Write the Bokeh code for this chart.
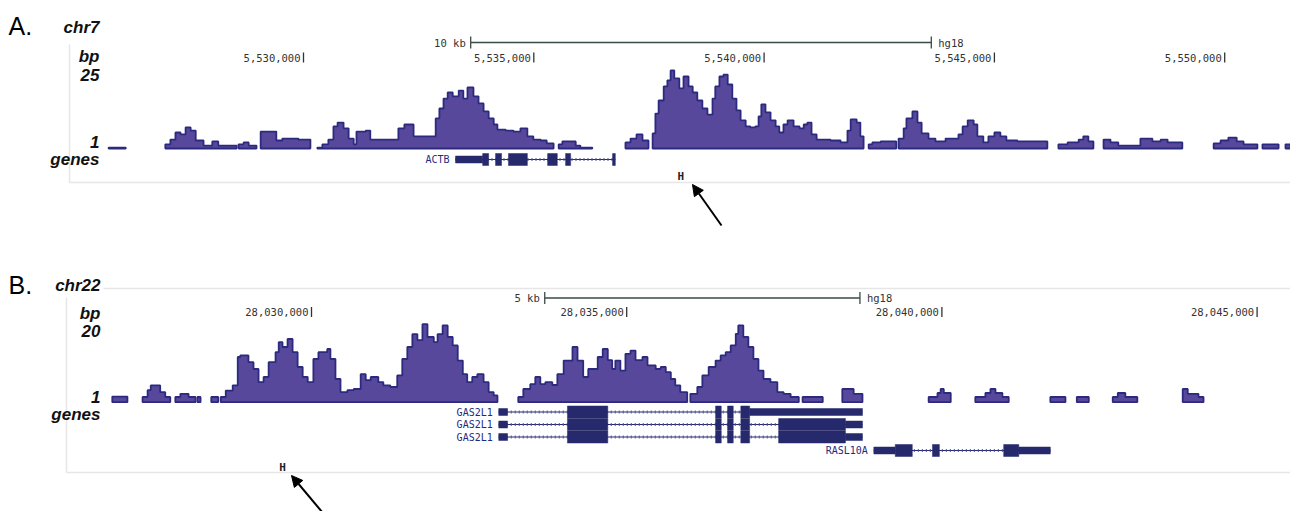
from bokeh.plotting import figure
from bokeh.layouts import column
from bokeh.models import Range1d, Arrow, NormalHead
from bokeh.embed import file_html
from bokeh.resources import INLINE
from bokeh.core.properties import value

# ======================= DATA =======================
# ---- Panel A : chr7 (hg18), positions in kb ----
a_chrom = "chr7"
a_ymax = 25
a_cov_kb = [
    5525.77, 5526.14, 5527.00, 5527.11, 5527.22, 5527.33, 5527.44, 5527.55, 5527.66, 5527.83,
    5528.02, 5528.15, 5528.55, 5528.59, 5528.70, 5528.81, 5528.98, 5529.07, 5529.41, 5529.54,
    5529.89, 5530.15, 5530.30, 5530.41, 5530.54, 5530.65, 5530.74, 5530.87, 5530.98, 5531.09,
    5531.15, 5531.35, 5531.45, 5532.06, 5532.19, 5532.39, 5532.87, 5532.95, 5533.04, 5533.13,
    5533.24, 5533.37, 5533.47, 5533.56, 5533.69, 5533.80, 5533.91, 5534.02, 5534.13, 5534.21,
    5534.39, 5534.56, 5534.71, 5534.86, 5534.99, 5535.15, 5535.28, 5535.43, 5535.54, 5535.62,
    5535.91, 5536.01, 5536.27, 5536.99, 5537.10, 5537.23, 5537.36, 5537.49, 5537.58, 5537.64,
    5537.71, 5537.82, 5537.90, 5537.97, 5538.05, 5538.16, 5538.25, 5538.36, 5538.45, 5538.55,
    5538.66, 5538.77, 5538.88, 5538.94, 5539.03, 5539.12, 5539.21, 5539.31, 5539.40, 5539.49,
    5539.60, 5539.70, 5539.81, 5539.88, 5539.94, 5540.03, 5540.14, 5540.25, 5540.33, 5540.42,
    5540.51, 5540.64, 5540.77, 5540.86, 5540.94, 5541.03, 5541.14, 5541.44, 5541.66, 5541.81,
    5541.88, 5542.01, 5542.09, 5542.16, 5542.27, 5542.35, 5542.53, 5542.87, 5542.92, 5543.03,
    5543.09, 5543.22, 5543.33, 5543.42, 5543.57, 5543.72, 5543.94, 5544.22, 5544.31, 5544.42,
    5544.55, 5544.63, 5544.76, 5544.87, 5545.00, 5545.13, 5545.26, 5545.50, 5546.15, 5546.39,
    5546.59, 5546.83, 5546.93, 5547.04, 5547.15, 5547.37, 5547.52, 5547.69, 5548.17, 5548.43,
    5548.61, 5548.76, 5549.08, 5549.76, 5549.91, 5550.08, 5550.26, 5550.41, 5550.71, 5550.82,
    5551.17, 5551.32, 5551.43,
]
a_cov = [
    0.3, 0, 1.3, 2.8, 5.0, 4.4, 6.6, 5.6, 2.5, 0.9,
    2.2, 0.9, 0, 1.3, 1.9, 0.9, 0, 5.3, 2.5, 3.1,
    2.8, 0, 0.3, 1.3, 2.8, 6.9, 8.1, 6.3, 3.1, 1.3,
    5.3, 5.6, 2.8, 6.3, 7.5, 3.8, 9.4, 12.5, 15.6, 17.5,
    16.3, 18.1, 15.6, 19.1, 16.3, 14.1, 11.6, 9.4, 7.5, 5.9,
    5.6, 5.3, 6.3, 3.8, 2.8, 2.5, 1.6, 0, 1.3, 2.2,
    0.9, 0.3, 0, 1.9, 3.1, 4.4, 2.5, 0, 4.7, 10.9,
    15.0, 19.4, 21.3, 24.4, 21.9, 18.8, 22.5, 19.4, 17.5, 15.0,
    12.5, 10.6, 15.6, 19.4, 22.5, 23.1, 20.0, 15.6, 11.9, 8.8,
    6.9, 6.6, 6.9, 10.0, 13.8, 11.3, 8.8, 6.9, 5.0, 7.5,
    8.8, 6.9, 6.3, 7.5, 8.1, 4.4, 2.8, 2.5, 1.9, 5.6,
    9.1, 8.1, 3.8, 0, 1.3, 1.9, 2.2, 0, 3.1, 6.3,
    9.4, 11.6, 8.1, 4.7, 3.1, 2.2, 3.1, 4.4, 6.9, 8.8,
    7.5, 3.8, 1.9, 3.8, 5.0, 3.8, 2.5, 2.2, 0, 1.3,
    1.9, 2.8, 3.8, 2.2, 0, 2.8, 1.9, 0.9, 3.1, 2.2,
    2.8, 1.9, 0, 1.6, 2.5, 3.4, 2.2, 1.3, 0, 1.3,
    0, 1.3, 0,
]
a_ticks_kb = [5530, 5535, 5540, 5545, 5550]
a_tick_labels = ["5,530,000", "5,535,000", "5,540,000", "5,545,000", "5,550,000"]
a_scale_start_kb = 5533.63
a_scale_len_kb = 10
a_scale_label = "10 kb"
a_tx_name = ["ACTB"]
a_tx_row = [0]
a_tx_start = [5533.30]
a_tx_end = [5536.77]
a_utr_row = [0]
a_utr_start = [5533.30]
a_utr_end = [5533.89]
a_exon_row = [0, 0, 0, 0, 0, 0]
a_exon_start = [5533.89, 5534.17, 5534.45, 5535.30, 5535.69, 5536.71]
a_exon_end = [5534.02, 5534.30, 5534.86, 5535.51, 5535.80, 5536.77]
a_marker_kb = 5538.19

# ---- Panel B : chr22 (hg18), positions in kb ----
b_chrom = "chr22"
b_ymax = 20
b_cov_kb = [
    28026.84, 28027.08, 28027.32, 28027.40, 28027.45, 28027.60, 28027.68, 28027.76, 28027.84, 28027.92,
    28028.05, 28028.16, 28028.19, 28028.24, 28028.41, 28028.52, 28028.56, 28028.64, 28028.75, 28028.83,
    28028.87, 28029.00, 28029.08, 28029.16, 28029.24, 28029.32, 28029.43, 28029.48, 28029.54, 28029.62,
    28029.70, 28029.78, 28029.86, 28029.94, 28030.03, 28030.11, 28030.25, 28030.30, 28030.38, 28030.46,
    28030.57, 28030.67, 28030.78, 28030.86, 28030.94, 28031.06, 28031.14, 28031.25, 28031.36, 28031.44,
    28031.52, 28031.60, 28031.68, 28031.76, 28031.84, 28031.94, 28032.00, 28032.08, 28032.16, 28032.24,
    28032.32, 28032.40, 28032.47, 28032.55, 28032.63, 28032.73, 28032.81, 28032.89, 28032.95, 28033.28,
    28033.36, 28033.47, 28033.55, 28033.63, 28033.71, 28033.82, 28033.90, 28034.00, 28034.14, 28034.22,
    28034.31, 28034.39, 28034.54, 28034.62, 28034.70, 28034.77, 28034.82, 28034.90, 28034.98, 28035.06,
    28035.14, 28035.25, 28035.33, 28035.46, 28035.54, 28035.62, 28035.70, 28035.77, 28035.85, 28035.96,
    28036.01, 28036.12, 28036.20, 28036.30, 28036.41, 28036.49, 28036.57, 28036.65, 28036.73, 28036.77,
    28036.85, 28036.93, 28037.01, 28037.09, 28037.17, 28037.28, 28037.39, 28037.49, 28037.60, 28037.73,
    28037.79, 28038.11, 28038.42, 28038.60, 28038.74, 28039.79, 28039.93, 28039.98, 28040.03, 28040.14,
    28040.53, 28040.69, 28040.77, 28040.85, 28040.96, 28041.06, 28041.72, 28041.96, 28042.14, 28042.33,
    28042.71, 28042.79, 28042.91, 28043.10, 28043.82, 28043.90, 28044.07, 28044.15,
]
b_cov = [
    1.4, 0, 1.3, 3.0, 4.2, 2.5, 1.3, 0, 1.3, 2.1,
    1.3, 0, 1.3, 0, 1.3, 0, 1.3, 2.9, 4.2, 11.3,
    11.7, 10.0, 8.3, 5.0, 6.3, 10.0, 12.5, 15.0, 13.8, 15.8,
    12.5, 8.8, 6.3, 5.0, 10.8, 12.5, 13.3, 10.8, 5.8, 2.5,
    3.0, 3.3, 7.0, 5.5, 6.3, 5.0, 4.2, 3.8, 6.7, 10.8,
    13.8, 17.0, 15.5, 19.5, 16.3, 15.0, 17.0, 19.2, 16.3, 14.2,
    10.4, 7.0, 5.0, 6.3, 7.0, 5.0, 2.5, 1.7, 0, 1.3,
    3.3, 4.5, 6.3, 4.5, 5.0, 4.3, 7.0, 10.4, 13.8, 10.4,
    6.3, 8.3, 11.3, 13.3, 10.5, 8.3, 10.4, 7.9, 12.1, 12.9,
    10.5, 11.3, 9.2, 8.3, 8.8, 7.5, 5.8, 4.2, 2.5, 0,
    2.1, 3.8, 6.7, 8.8, 10.4, 11.7, 12.5, 14.2, 17.1, 19.2,
    16.3, 13.8, 10.8, 7.9, 5.8, 5.0, 2.5, 2.1, 1.3, 0,
    1.3, 0, 3.3, 2.1, 0, 1.3, 2.3, 3.3, 2.3, 0,
    1.3, 2.3, 3.3, 2.3, 1.3, 0, 1.3, 0, 1.3, 0,
    1.3, 2.3, 1.3, 0, 3.3, 2.1, 1.3, 0,
]
b_ticks_kb = [28030, 28035, 28040, 28045]
b_tick_labels = ["28,030,000", "28,035,000", "28,040,000", "28,045,000"]
b_scale_start_kb = 28033.70
b_scale_len_kb = 5
b_scale_label = "5 kb"
b_tx_name = ["GAS2L1", "GAS2L1", "GAS2L1", "RASL10A"]
b_tx_row = [0, 1, 2, 3]
b_tx_start = [28032.97, 28032.97, 28032.97, 28038.92]
b_tx_end = [28038.74, 28038.74, 28038.74, 28041.72]
b_utr_row = [0, 0, 1, 1, 2, 2, 3, 3]
b_utr_start = [28032.97, 28036.95, 28032.97, 28038.47, 28032.97, 28038.47, 28038.92, 28041.22]
b_utr_end = [28033.11, 28038.74, 28033.11, 28038.74, 28033.11, 28038.74, 28039.26, 28041.72]
b_exon_row = [0, 0, 0, 0, 1, 1, 1, 1, 1, 2, 2, 2, 2, 2, 3, 3, 3]
b_exon_start = [28034.06, 28036.41, 28036.60, 28036.81,
                28034.06, 28036.41, 28036.60, 28036.81, 28037.41,
                28034.06, 28036.41, 28036.60, 28036.81, 28037.41,
                28039.26, 28039.85, 28040.98]
b_exon_end = [28034.70, 28036.50, 28036.69, 28036.95,
              28034.70, 28036.50, 28036.69, 28036.95, 28038.47,
              28034.70, 28036.50, 28036.69, 28036.95, 28038.47,
              28039.53, 28039.96, 28041.22]
b_marker_kb = 28029.54

# ======================= STYLE / LAYOUT =======================
W = 1290
HA = 260
HB = 251
MONO = value("DejaVu Sans Mono")
SANS = value("Liberation Sans")
FILL = "#57489b"
EDGE = "#2c2a7e"
GENE = "#262a6c"
GRAY = "#e6e6e6"
TXT = "#333333"


def coverage_polys(xs, vs):
    pxs, pys = [], []
    cx, cy = None, None
    for i in range(len(xs) - 1):
        v = vs[i]
        if v > 0:
            if cx is None:
                cx, cy = [xs[i]], [0]
            cx += [xs[i], xs[i + 1]]
            cy += [v, v]
        elif cx is not None:
            cx.append(xs[i]); cy.append(0)
            pxs.append(cx); pys.append(cy)
            cx = None
    if cx is not None:
        cx.append(xs[-1]); cy.append(0)
        pxs.append(cx); pys.append(cy)
    return pxs, pys


def new_fig(h, xr, yr):
    p = figure(width=W, height=h, x_range=Range1d(*xr), y_range=Range1d(*yr),
               output_backend="svg", toolbar_location=None,
               x_axis_type=None, y_axis_type=None, min_border=0)
    p.outline_line_color = None
    p.xgrid.grid_line_color = None
    p.ygrid.grid_line_color = None
    p.background_fill_color = "white"
    p.border_fill_color = "white"
    return p


def draw_panel(p, X, Y, cfg):
    # frame lines
    for (x0, y0, x1, y1) in cfg["frame"]:
        p.segment(x0=[X(x0)], y0=[Y(y0)], x1=[X(x1)], y1=[Y(y1)],
                  line_color=GRAY, line_width=1.5)
    # coverage
    pxs, pys = coverage_polys(cfg["cov_kb"], cfg["cov"])
    p.patches(pxs, pys, fill_color=FILL, line_color=EDGE, line_width=1.8)
    # ruler ticks
    ticks = cfg["ticks"]
    n = len(ticks)
    ty = cfg["tick_y"]
    p.segment(x0=ticks, x1=ticks, y0=[Y(ty - 5)] * n, y1=[Y(ty + 5)] * n,
              line_color=TXT, line_width=1.3)
    p.text(x=ticks, y=[Y(ty)] * n, text=cfg["tick_labels"], x_offset=-3,
           text_align="right", text_baseline="middle", text_font=MONO,
           text_font_size="10.5px", text_color=TXT)
    # scale bar
    s0 = cfg["scale_start"]; s1 = s0 + cfg["scale_len"]
    sy = cfg["scale_y"]
    p.segment(x0=[s0], x1=[s1], y0=[Y(sy)], y1=[Y(sy)], line_color="#3a4a44", line_width=1.6)
    p.segment(x0=[s0, s1], x1=[s0, s1], y0=[Y(sy - 6)] * 2, y1=[Y(sy + 6)] * 2,
              line_color="#3a4a44", line_width=1.3)
    p.text(x=[s0], y=[Y(sy)], text=[cfg["scale_label"]], x_offset=-5,
           text_align="right", text_baseline="middle", text_font=MONO,
           text_font_size="10.5px", text_color=TXT)
    p.text(x=[s1], y=[Y(sy)], text=["hg18"], x_offset=7,
           text_align="left", text_baseline="middle", text_font=MONO,
           text_font_size="10.5px", text_color=TXT)
    # left labels
    lx = X(cfg["label_right"])
    p.text(x=[lx] * 5, y=[Y(v) for v in cfg["label_y"]],
           text=[cfg["chrom"], "bp", str(cfg["ymax"]), "1", "genes"],
           text_align="right", text_baseline="middle", text_font=SANS,
           text_font_style="bold italic", text_font_size="17px", text_color="#111111")
    p.text(x=[X(8)], y=[Y(cfg["panel_y"])], text=[cfg["panel"]],
           text_align="left", text_baseline="middle", text_font=SANS,
           text_font_size="25px", text_color="#000000")
    # genes
    rows = cfg["rows"]
    ry = lambda r: Y(rows[r])
    p.segment(x0=cfg["tx_start"], x1=cfg["tx_end"],
              y0=[ry(r) for r in cfg["tx_row"]], y1=[ry(r) for r in cfg["tx_row"]],
              line_color=GENE, line_width=1.2)
    p.segment(x0=cfg["tx_start"], x1=cfg["tx_end"],
              y0=[ry(r) for r in cfg["tx_row"]], y1=[ry(r) for r in cfg["tx_row"]],
              line_color="#4b4f9a", line_width=3, line_dash="1 3")
    us, ue = cfg["utr_start"], cfg["utr_end"]
    p.rect(x=[(a + b) / 2 for a, b in zip(us, ue)], y=[ry(r) for r in cfg["utr_row"]],
           width=[b - a for a, b in zip(us, ue)], height=7, height_units="screen",
           fill_color=GENE, line_color=GENE, line_width=0.5)
    es, ee = cfg["exon_start"], cfg["exon_end"]
    p.rect(x=[(a + b) / 2 for a, b in zip(es, ee)], y=[ry(r) for r in cfg["exon_row"]],
           width=[b - a for a, b in zip(es, ee)], height=12, height_units="screen",
           fill_color=GENE, line_color=GENE, line_width=0.5)
    p.text(x=cfg["tx_start"], y=[ry(r) for r in cfg["tx_row"]], text=cfg["tx_name"],
           x_offset=-6, text_align="right", text_baseline="middle", text_font=MONO,
           text_font_size="10px", text_color="#1f2a80")
    # marker + arrow
    mk, my = cfg["marker"]
    p.text(x=[mk], y=[Y(my)], text=["H"], text_align="center", text_baseline="middle",
           text_font=MONO, text_font_style="bold", text_font_size="11px", text_color="#222222")
    (ax0, ay0), (ax1, ay1) = cfg["arrow"]
    p.add_layout(Arrow(end=NormalHead(size=11, fill_color="black", line_color="black"),
                       x_start=X(ax0), y_start=Y(ay0), x_end=X(ax1), y_end=Y(ay1),
                       line_color="black", line_width=2))


# ---------- Panel A ----------
def xa(px):
    return a_ticks_kb[0] + (px - 303) / 46.06


def ya(py):
    return (148 - py) * a_ymax / 80.0


pa = new_fig(HA, (xa(0), xa(W)), (ya(HA), ya(0)))
draw_panel(pa, xa, ya, dict(
    frame=[(69, 44, 69, 182), (69, 182, 1290, 182)],
    cov_kb=a_cov_kb, cov=a_cov, ticks=a_ticks_kb, tick_labels=a_tick_labels, tick_y=57,
    scale_start=a_scale_start_kb, scale_len=a_scale_len_kb, scale_label=a_scale_label, scale_y=42,
    label_right=99, label_y=[27, 56, 74, 141, 159], chrom=a_chrom, ymax=a_ymax,
    panel="A.", panel_y=25,
    rows=[159], tx_name=a_tx_name, tx_row=a_tx_row, tx_start=a_tx_start, tx_end=a_tx_end,
    utr_row=a_utr_row, utr_start=a_utr_start, utr_end=a_utr_end,
    exon_row=a_exon_row, exon_start=a_exon_start, exon_end=a_exon_end,
    marker=(a_marker_kb, 176), arrow=((721, 225), (692, 184)),
))


# ---------- Panel B ----------
def xb(px):
    return b_ticks_kb[0] + (px - 311) / 63.04


def yb(py):
    return (401.7 - py) * b_ymax / 80.0


pb = new_fig(HB, (xb(0), xb(W)), (yb(HA + HB), yb(HA)))
draw_panel(pb, xb, yb, dict(
    frame=[(103, 288, 1290, 288), (66, 297, 66, 472), (66, 472, 1290, 472)],
    cov_kb=b_cov_kb, cov=b_cov, ticks=b_ticks_kb, tick_labels=b_tick_labels, tick_y=311.5,
    scale_start=b_scale_start_kb, scale_len=b_scale_len_kb, scale_label=b_scale_label, scale_y=297.5,
    label_right=100, label_y=[285, 313, 330, 396, 414], chrom=b_chrom, ymax=b_ymax,
    panel="B.", panel_y=284,
    rows=[411.5, 424, 436.5, 450], tx_name=b_tx_name, tx_row=b_tx_row,
    tx_start=b_tx_start, tx_end=b_tx_end,
    utr_row=b_utr_row, utr_start=b_utr_start, utr_end=b_utr_end,
    exon_row=b_exon_row, exon_start=b_exon_start, exon_end=b_exon_end,
    marker=(b_marker_kb, 467), arrow=((322, 512), (291, 475)),
))

layout = column(pa, pb, spacing=0)
open("out.html", "w").write(file_html(layout, INLINE))
